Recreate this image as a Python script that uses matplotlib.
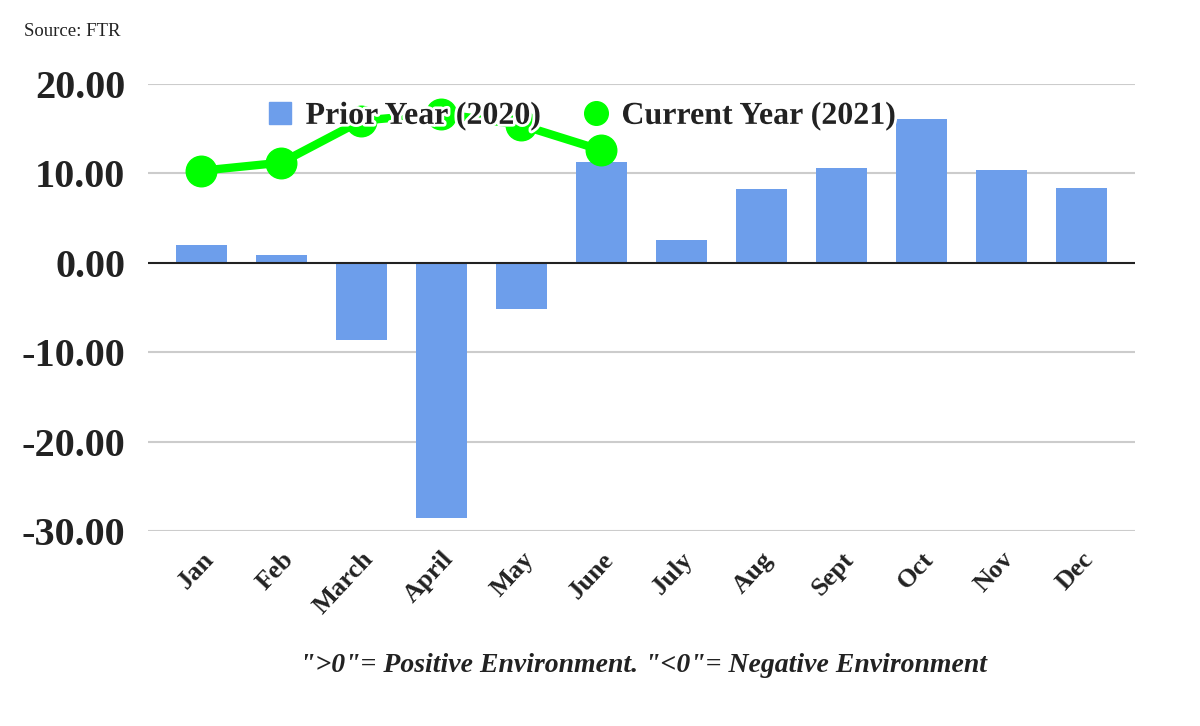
import matplotlib
matplotlib.use("Agg")
import matplotlib.pyplot as plt
import matplotlib.patheffects as pe
from matplotlib.lines import Line2D
import numpy as np

months = ["Jan", "Feb", "March", "April", "May", "June",
          "July", "Aug", "Sept", "Oct", "Nov", "Dec"]
prior_2020 = [2.0, 0.9, -8.6, -28.5, -5.2, 11.3, 2.6, 8.2, 10.6, 16.1, 10.4, 8.4]
current_2021 = [10.3, 11.2, 15.9, 16.7, 15.4, 12.6]
y_ticks = [20, 10, 0, -10, -20, -30]

BAR_BLUE = "#6d9eeb"
LINE_GREEN = "#00ff00"
SERIF = ["Liberation Serif", "DejaVu Serif"]

plt.rcParams["font.family"] = SERIF

fig = plt.figure(figsize=(12, 7.26), dpi=100)
ax = fig.add_axes([0.123, 0.2686, 0.823, 0.6157])

x = np.arange(len(months))
ax.bar(x, prior_2020, width=0.64, color=BAR_BLUE, zorder=2)
ax.plot(np.arange(len(current_2021)), current_2021, color=LINE_GREEN,
        linewidth=6, marker="o", markersize=22, zorder=3)

ax.set_xlim(-0.67, 11.67)
ax.set_ylim(-30, 20)
ax.set_yticks(y_ticks)
ax.set_yticklabels([f"{v:.2f}" for v in y_ticks], fontsize=29, fontweight="bold",
                   color="#222222")
ax.set_xticks(x)
ax.set_xticklabels(months, rotation=47, ha="right", rotation_mode="anchor",
                   fontsize=19, fontweight="bold", color="#222222")
ax.tick_params(axis="y", length=0, pad=16)
ax.tick_params(axis="x", length=0, pad=12)

for v in y_ticks:
    if v != 0:
        ax.axhline(v, color="#cccccc", linewidth=1.5, zorder=1)
ax.axhline(0, color="#222222", linewidth=1.5, zorder=2.5)
for s in ax.spines.values():
    s.set_visible(False)

handles = [
    Line2D([], [], linestyle="none", marker="s", markersize=16, color=BAR_BLUE),
    Line2D([], [], linestyle="none", marker="o", markersize=17, color=LINE_GREEN),
]
leg = ax.legend(handles, ["Prior Year (2020)", "Current Year (2021)"],
                loc="center", bbox_to_anchor=(0.438, 0.928), ncol=2,
                frameon=False, handletextpad=0.3, columnspacing=1.2,
                handlelength=1.0, prop={"family": SERIF, "weight": "bold", "size": 23})
leg.set_zorder(5)
for t in leg.get_texts():
    t.set_color("#222222")
    t.set_path_effects([pe.withStroke(linewidth=4, foreground="white")])

fig.text(0.02, 0.956, "Source: FTR", fontsize=13.5, color="#222222", va="center")
fig.text(0.536, 0.083, "\">0\"= Positive Environment. \"<0\"= Negative Environment",
         ha="center", va="center", fontsize=20, fontweight="bold", style="italic",
         color="#222222")

fig.savefig("out.png", dpi=100)
